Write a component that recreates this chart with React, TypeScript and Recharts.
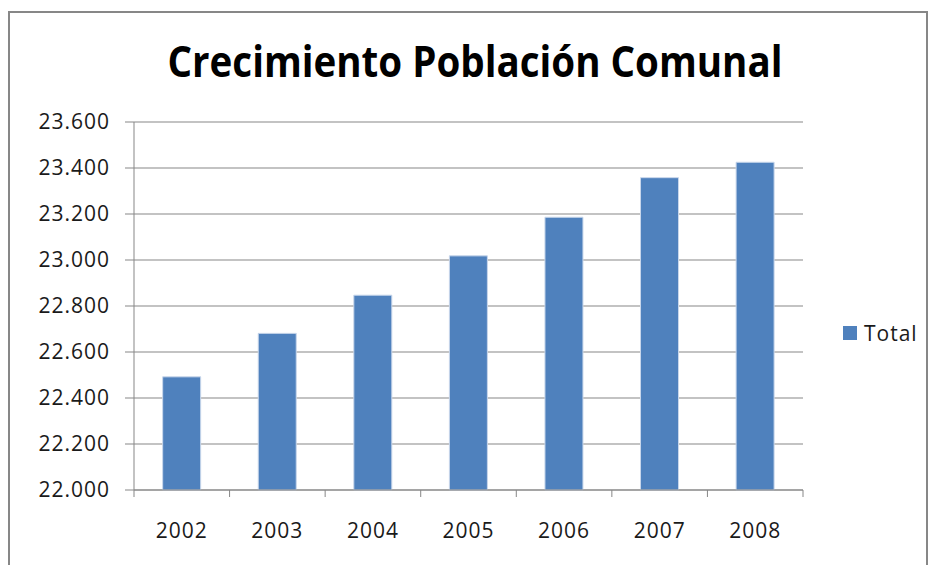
import { BarChart, Bar, XAxis, YAxis, CartesianGrid, Legend } from "recharts";

const years = ["2002", "2003", "2004", "2005", "2006", "2007", "2008"];
const totals = [22492, 22681, 22847, 23018, 23186, 23358, 23425];
const yTicks = [22000, 22200, 22400, 22600, 22800, 23000, 23200, 23400, 23600];
const seriesName = "Total";
const title = "Crecimiento Población Comunal";

const data = years.map((year, i) => ({ year, Total: totals[i] }));

const W = 928;
const H = 565;
const PLOT_LEFT = 134;
const PLOT_RIGHT = 803;
const PLOT_BOTTOM = 490;
const BAND = (PLOT_RIGHT - PLOT_LEFT) / years.length;
const FONT = "'Open Sans', sans-serif";
const GRAY = "#878787";

const fmt = (v: number) => v.toLocaleString("de-DE");

function YearTick(props: any) {
  const { x, y, payload, index } = props;
  const left = x - BAND / 2;
  return (
    <g>
      <line x1={left} y1={y} x2={left} y2={y + 7} stroke={GRAY} />
      {index === years.length - 1 && (
        <line x1={left + BAND} y1={y} x2={left + BAND} y2={y + 7} stroke={GRAY} />
      )}
      <text x={x} y={y + 48} textAnchor="middle" fontFamily={FONT} fontSize={21} fill="#1a1a1a" style={{ letterSpacing: 1 }}>
        {payload.value}
      </text>
    </g>
  );
}

function LegendBox() {
  return (
    <div style={{ display: "flex", alignItems: "center", fontFamily: FONT, fontSize: 21, color: "#1a1a1a", letterSpacing: 1 }}>
      <span style={{ display: "inline-block", width: 14, height: 14, background: "#4F81BD", marginRight: 7 }} />
      {seriesName}
    </div>
  );
}

export default function App() {
  return (
    <div style={{ position: "absolute", left: 0, top: 0, width: W, height: H, background: "#fff", overflow: "hidden" }}>
      <div style={{ position: "absolute", left: 8, top: 11, width: 916, height: 600, border: `2px solid ${GRAY}`, borderBottom: "none" }} />
      <BarChart
        width={W}
        height={H}
        data={data}
        margin={{ top: 122, right: W - PLOT_RIGHT - 80, bottom: 0, left: 0 }}
        barCategoryGap="30%"
      >
        <text x={475} y={77} textAnchor="middle" fontFamily={FONT} fontWeight={700} fontSize={43} fill="#000" textLength={615} lengthAdjust="spacingAndGlyphs">
          {title}
        </text>
        <CartesianGrid vertical={false} stroke={GRAY} strokeWidth={1.2} />
        <XAxis dataKey="year" tickLine={false} tickSize={0} tickMargin={0} axisLine={{ stroke: GRAY }} tick={<YearTick />} interval={0} height={H - PLOT_BOTTOM} />
        <YAxis
          width={PLOT_LEFT}
          domain={[22000, 23600]}
          ticks={yTicks}
          interval={0}
          tickFormatter={fmt}
          tickSize={9}
          tickMargin={15}
          tickLine={{ stroke: GRAY }}
          axisLine={{ stroke: GRAY }}
          tick={{ fontFamily: FONT, fontSize: 21, fill: "#1a1a1a", style: { letterSpacing: 1 } }}
        />
        <Legend
          layout="vertical"
          align="right"
          verticalAlign="middle"
          content={<LegendBox />}
          wrapperStyle={{ left: 843, top: 319, width: 80, right: "auto" }}
        />
        <Bar dataKey="Total" fill="#4F81BD" stroke="#C9D7EB" strokeWidth={1} isAnimationActive={false} />
      </BarChart>
    </div>
  );
}
